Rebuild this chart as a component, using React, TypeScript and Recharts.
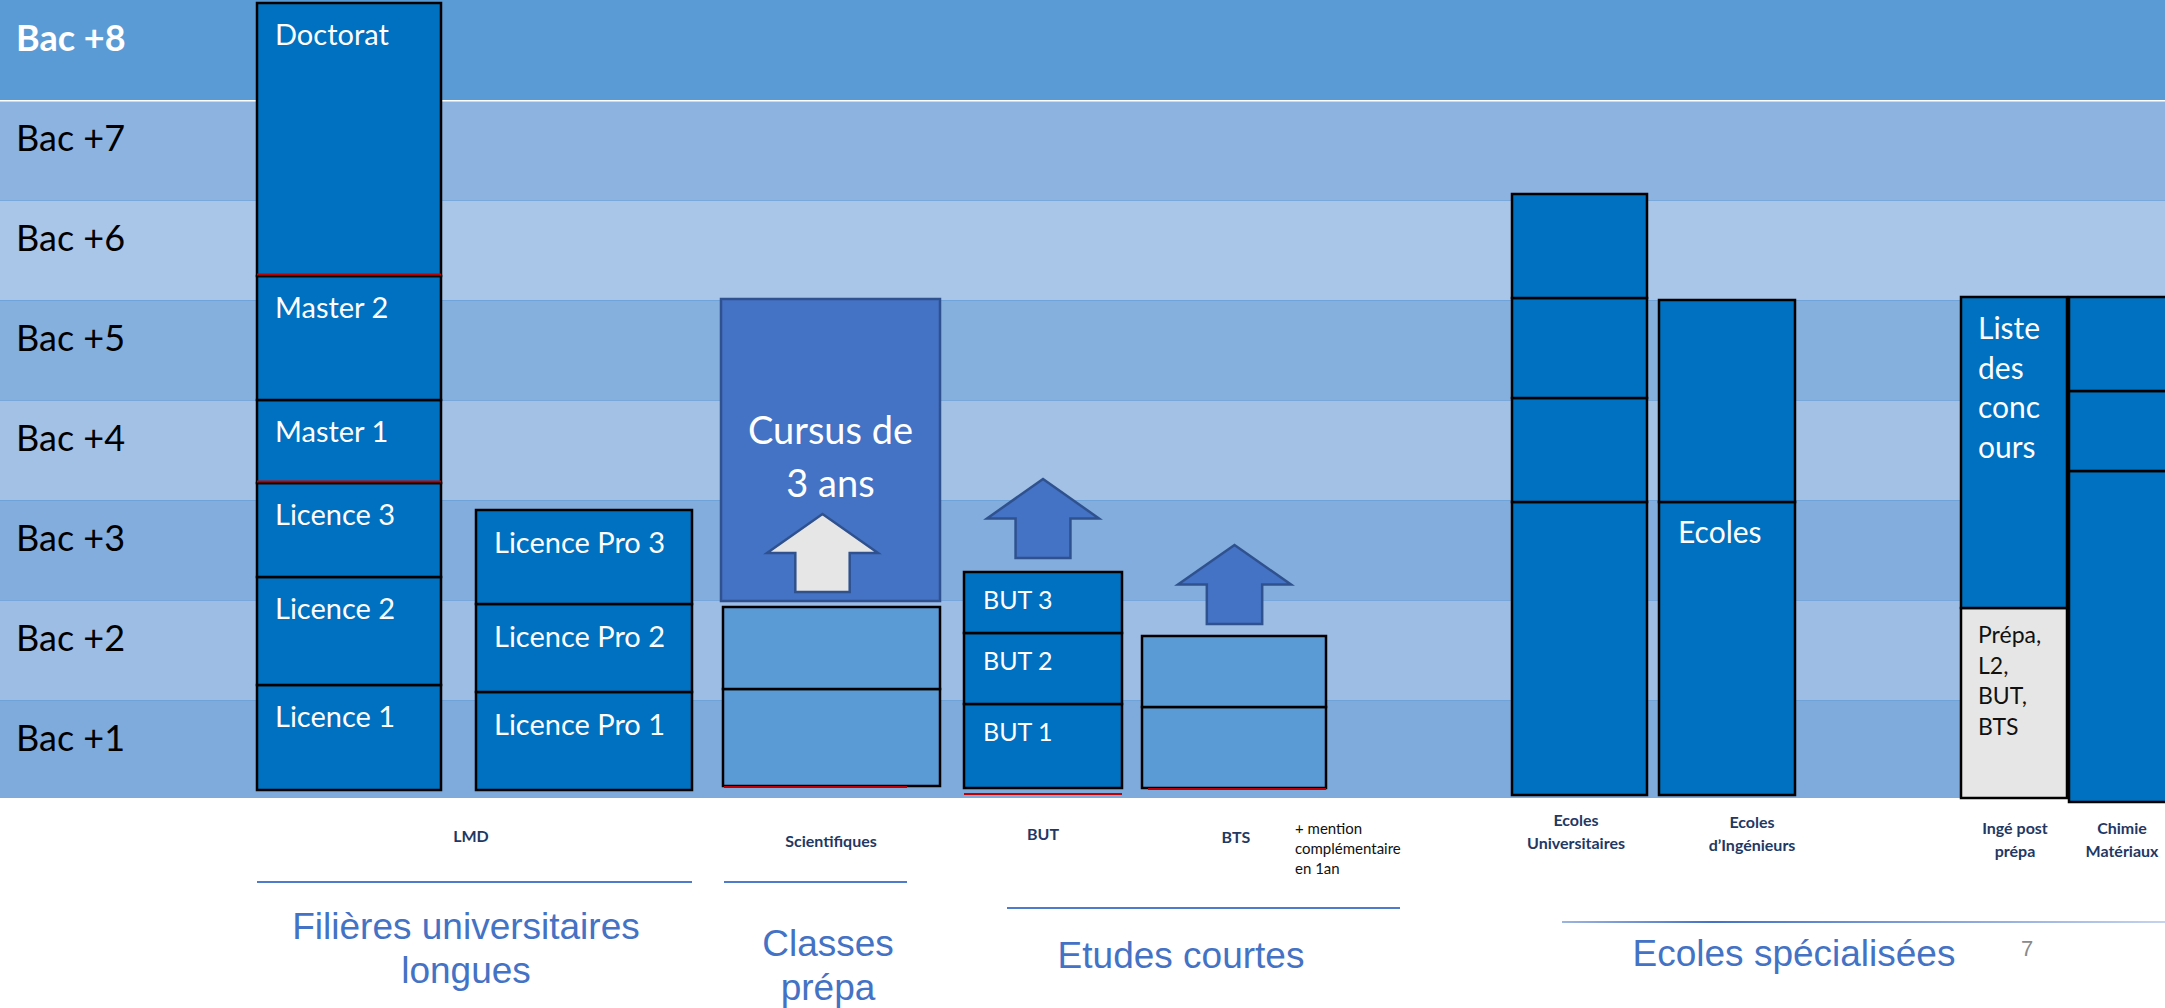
import React from 'react';
import { ComposedChart, XAxis, YAxis, ReferenceArea, ReferenceLine, ReferenceDot } from 'recharts';

const W = 2165;
const H = 1008;
const SANS = 'Lato, "Open Sans", sans-serif';
const ARIAL = '"Liberation Sans", Arial, sans-serif';

// levels (y axis, in "years after bac")
const levels = ['Bac +1', 'Bac +2', 'Bac +3', 'Bac +4', 'Bac +5', 'Bac +6', 'Bac +7', 'Bac +8'];

// each column: boundaries from bottom to top, in bac levels
const lmdSteps = [0.1, 1.15, 2.23, 3.17, 4.0, 5.24, 7.97];
const lmdNames = ['Licence 1', 'Licence 2', 'Licence 3', 'Master 1', 'Master 2', 'Doctorat'];
const lproSteps = [0.1, 1.08, 1.96, 2.9];
const lproNames = ['Licence Pro 1', 'Licence Pro 2', 'Licence Pro 3'];
const prepaSteps = [0.14, 1.11, 1.93];
const cursusSteps = [1.99, 5.01];
const butSteps = [0.12, 0.96, 1.67, 2.28];
const butNames = ['BUT 1', 'BUT 2', 'BUT 3'];
const btsSteps = [0.12, 0.93, 1.64];
const ecUnivSteps = [0.05, 2.98, 4.02, 5.02, 6.06];
const ecIngSteps = [0.05, 2.98, 5.0];
const ecIngNames = ['Ecoles', ''];
const ingeSteps = [0.02, 1.92, 5.03];
const ingeNames = ['Prépa,|L2,|BUT,|BTS', 'Liste|des|conc|ours'];
const chimieSteps = [-0.02, 3.29, 4.09, 5.03];

// arrows: [bottom, tip] in bac levels
const arrowWhite = [2.08, 2.86];
const arrowBut = [2.42, 3.21];
const arrowBts = [1.76, 2.55];

// sub labels below the axis
const subLabels = ['LMD', 'Scientifiques', 'BUT', 'BTS', 'Ecoles|Universitaires', 'Ecoles|d’Ingénieurs', 'Ingé post|prépa', 'Chimie|Matériaux'];
const subLabelLevels = [-0.35, -0.4, -0.33, -0.36, -0.31, -0.325, -0.39, -0.39];
const mentionText = ['+ mention', 'complémentaire', 'en 1an'];
const groupTitles = ['Filières universitaires|longues', 'Classes|prépa', 'Etudes courtes', 'Ecoles spécialisées'];
const groupLevels = [-1.48, -1.65, -1.55, -1.53];
const groupRules = [-0.82, -0.82, -1.08, -1.22];
const pageNumber = '7';

// horizontal placement of each column on the x track
const spanLmd = [257, 441];
const spanLpro = [476, 692];
const spanPrepa = [723, 940];
const spanBut = [964, 1122];
const spanBts = [1142, 1326];
const spanEcUniv = [1512, 1647];
const spanEcIng = [1659, 1795];
const spanInge = [1961, 2067];
const spanChimie = [2069, 2200];
const subLabelX = [471, 831, 1043, 1236, 1576, 1752, 2015, 2122];
const groupX = [466, 828, 1181, 1794];
const ruleSpans = [[257, 692], [724, 907], [1007, 1400], [1562, 2165]];

const DARK = '#0070c0';
const MID = '#5b9bd5';
const bandFills = ['#7eaadc', '#9dbde4', '#82addd', '#a3c0e5', '#85afdd', '#a9c5e8', '#8db3e1', '#5b9bd5'];

const textLabel = (
  lines: string[],
  o: { dx?: number; dy: number; size: number; color: string; weight?: number; lh?: number; center?: boolean; family?: string; anchor?: string }
) =>
  (props: any) => {
    const vb = props.viewBox ?? { x: 0, y: 0, width: 0, height: 0 };
    const x = o.center ? vb.x + (vb.width || 0) / 2 : vb.x + (o.dx ?? 0);
    const lh = o.lh ?? o.size * 1.2;
    return (
      <g>
        {lines.map((t, i) => (
          <text
            key={i}
            x={x}
            y={vb.y + o.dy + i * lh}
            fill={o.color}
            fontSize={o.size}
            fontWeight={o.weight ?? 400}
            fontFamily={o.family ?? SANS}
            textAnchor={o.anchor ?? (o.center ? 'middle' : 'start')}
            dominantBaseline="central"
          >
            {t}
          </text>
        ))}
      </g>
    );
  };

const bandShape = (fill: string, sep?: string, sepW = 2) => (p: any) => (
  <g>
    <rect x={p.x} y={p.y} width={p.width} height={p.height} fill={fill} />
    {sep && <line x1={p.x} x2={p.x + p.width} y1={p.y} y2={p.y} stroke={sep} strokeWidth={sepW} />}
  </g>
);

const arrowShape = (fill: string, stroke: string) => (p: any) => {
  const { x, y, width: w, height: h } = p;
  const hy = y + h * 0.5;
  const s0 = x + w * 0.255;
  const s1 = x + w * 0.745;
  const pts = `${x + w / 2},${y} ${x + w},${hy} ${s1},${hy} ${s1},${y + h} ${s0},${y + h} ${s0},${hy} ${x},${hy}`;
  return <polygon points={pts} fill={fill} stroke={stroke} strokeWidth={2.5} />;
};

type Col = {
  span: number[];
  steps: number[];
  names?: string[];
  fills?: string[];
  fill: string;
  size?: number;
  dx?: number;
  dy?: number;
  textColors?: string[];
  sizes?: number[];
};

const columns: Col[] = [
  { span: spanLmd, steps: lmdSteps, names: lmdNames, fill: DARK, size: 29, dx: 18, dy: 30 },
  { span: spanLpro, steps: lproSteps, names: lproNames, fill: DARK, size: 29, dx: 18, dy: 31 },
  { span: spanPrepa, steps: prepaSteps, fill: MID },
  { span: spanBut, steps: butSteps, names: butNames, fill: DARK, size: 25, dx: 19, dy: 27 },
  { span: spanBts, steps: btsSteps, fill: MID },
  { span: spanEcUniv, steps: ecUnivSteps, fill: DARK },
  { span: spanEcIng, steps: ecIngSteps, names: ecIngNames, fill: DARK, size: 30, dx: 19, dy: 29 },
  {
    span: spanInge, steps: ingeSteps, names: ingeNames, fill: DARK, fills: ['#e7e6e6', DARK],
    dx: 17, textColors: ['#111', '#fff'], sizes: [23, 30],
  },
  { span: spanChimie, steps: chimieSteps, fill: DARK },
];

const redMarks = [
  { span: spanLmd, y: 5.255 },
  { span: spanLmd, y: 3.185 },
  { span: [724, 907], y: 0.13 },
  { span: spanBut, y: 0.06 },
  { span: [1148, 1326], y: 0.11 },
];

export default function App() {
  return (
    <div style={{ position: 'absolute', left: 0, top: 0, width: W, height: H, background: '#fff' }}>
      <ComposedChart width={W} height={H} margin={{ top: 0, right: 0, bottom: 0, left: 0 }} data={[{ x: 0 }, { x: W }]}>
        <defs>
          <linearGradient id="ruleFade" gradientUnits="userSpaceOnUse" x1={1562} x2={2165} y1={0} y2={0}>
            <stop offset="0%" stopColor="#9db4e0" />
            <stop offset="25%" stopColor="#4472c4" />
            <stop offset="100%" stopColor="#c4d3ee" />
          </linearGradient>
        </defs>
        <XAxis type="number" dataKey="x" domain={[0, W]} hide allowDataOverflow />
        <YAxis type="number" domain={[-2.08, 8]} hide allowDataOverflow />

        {levels.map((name, i) => (
          <ReferenceArea
            key={name}
            x1={0}
            x2={W}
            y1={i === 0 ? 0.02 : i}
            y2={i + 1}
            ifOverflow="visible"
            shape={bandShape(bandFills[i], i === 7 ? undefined : i === 6 ? '#ffffff' : '#6a9fd9', i === 6 ? 3 : 1.5)}
            label={textLabel([name], {
              dx: 16, dy: 37, size: 36,
              color: i === 7 ? '#fff' : '#000', weight: i === 7 ? 700 : 400,
            })}
          />
        ))}

        {columns.flatMap((c, ci) =>
          c.steps.slice(0, -1).map((lo, i) => {
            const name = c.names?.[i];
            const size = c.sizes?.[i] ?? c.size ?? 28;
            const lines = name ? name.split('|') : [];
            return (
              <ReferenceArea
                key={`c${ci}-${i}`}
                x1={c.span[0]}
                x2={c.span[1]}
                y1={lo}
                y2={c.steps[i + 1]}
                ifOverflow="visible"
                fill={c.fills?.[i] ?? c.fill}
                fillOpacity={1}
                stroke="#000"
                strokeWidth={2.5}
                label={
                  lines.length
                    ? textLabel(lines, {
                        dx: c.dx, dy: c.dy ?? (lines.length > 1 ? (i === 0 ? 26 : 30) : 30), size,
                        color: c.textColors?.[i] ?? '#fff', lh: lines.length > 1 ? (i === 0 ? 30.5 : 39.5) : undefined,
                      })
                    : undefined
                }
              />
            );
          })
        )}

        <ReferenceArea
          x1={spanPrepa[0] - 2}
          x2={spanPrepa[1]}
          y1={cursusSteps[0]}
          y2={cursusSteps[1]}
          ifOverflow="visible"
          fill="#4472c4"
          fillOpacity={1}
          stroke="#2f528f"
          strokeWidth={2.5}
          label={textLabel(['Cursus de', '3 ans'], { center: true, dy: 130, size: 38, lh: 53, color: '#fff' })}
        />

        <ReferenceArea x1={767} x2={878} y1={arrowWhite[0]} y2={arrowWhite[1]} ifOverflow="visible" shape={arrowShape('#e7e6e6', '#2f528f')} />
        <ReferenceArea x1={987} x2={1099} y1={arrowBut[0]} y2={arrowBut[1]} ifOverflow="visible" shape={arrowShape('#4472c4', '#2f528f')} />
        <ReferenceArea x1={1178} x2={1291} y1={arrowBts[0]} y2={arrowBts[1]} ifOverflow="visible" shape={arrowShape('#4472c4', '#2f528f')} />

        {redMarks.map((m, i) => (
          <ReferenceLine
            key={`r${i}`}
            segment={[{ x: m.span[0], y: m.y }, { x: m.span[1], y: m.y }]}
            stroke="#c00000"
            strokeWidth={2}
            ifOverflow="visible"
          />
        ))}

        {subLabels.map((s, i) => {
          const lines = s.split('|');
          const lh = 23;
          return (
            <ReferenceDot
              key={`s${i}`}
              x={subLabelX[i]}
              y={subLabelLevels[i]}
              r={0}
              fill="none"
              stroke="none"
              ifOverflow="visible"
              label={textLabel(lines, { center: true, dy: -((lines.length - 1) * lh) / 2, lh, size: 16, weight: 700, color: '#1f3864' })}
            />
          );
        })}

        <ReferenceDot
          x={1295}
          y={-0.28}
          r={0}
          fill="none"
          stroke="none"
          ifOverflow="visible"
          label={textLabel(mentionText, { dx: 0, dy: 0, lh: 20, size: 15, color: '#111' })}
        />

        {ruleSpans.map((s, i) => (
          <ReferenceLine
            key={`g${i}`}
            segment={[{ x: s[0], y: groupRules[i] }, { x: s[1], y: groupRules[i] }]}
            stroke={i === 3 ? 'url(#ruleFade)' : '#4f7bcc'}
            strokeWidth={2}
            ifOverflow="visible"
          />
        ))}

        {groupTitles.map((g, i) => {
          const lines = g.split('|');
          const lh = 44;
          return (
            <ReferenceDot
              key={`t${i}`}
              x={groupX[i]}
              y={groupLevels[i]}
              r={0}
              fill="none"
              stroke="none"
              ifOverflow="visible"
              label={textLabel(lines, { center: true, dy: -((lines.length - 1) * lh) / 2, lh, size: 37, color: '#4472c4', family: ARIAL })}
            />
          );
        })}

        <ReferenceDot
          x={2027}
          y={-1.48}
          r={0}
          fill="none"
          stroke="none"
          ifOverflow="visible"
          label={textLabel([pageNumber], { center: true, dy: 0, size: 22, color: '#8a8a8a', family: ARIAL })}
        />
      </ComposedChart>
    </div>
  );
}
